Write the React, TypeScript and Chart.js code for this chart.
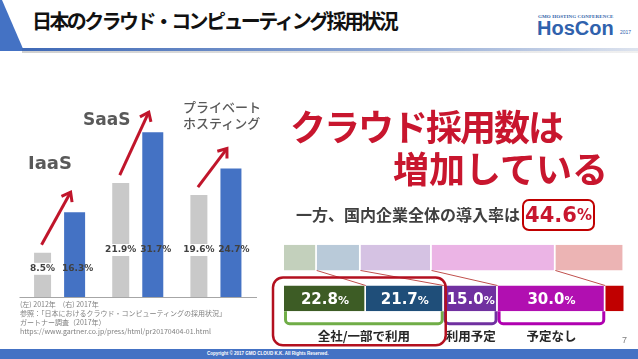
import React, { useEffect, useRef } from 'react';
import { Chart, registerables } from 'chart.js';

Chart.register(...registerables);

// ---------- data ----------
const categories = ['IaaS', 'SaaS', 'プライベートホスティング'];
const seriesNames = ['2012年', '2017年'];
const values2012 = [8.5, 21.9, 19.6];
const values2017 = [16.3, 31.7, 24.7];

const rowNames = ['全体', '内訳'];
const topRowValues = [9.1, 12.2, 19.8, 34.5, 19.1];
const bottomRowValues = [22.8, 21.7, 15.0, 30.0, 5.5];
const groupLabels = ['全社/一部で利用', '利用予定', '予定なし'];
const groupFirst = [0, 2, 3];
const groupLast = [1, 2, 3];
const adoptionRate = '44.6';

// ---------- styles ----------
const JP = '"Noto Sans CJK JP", "Noto Sans", sans-serif';
const NUM = '"DejaVu Sans", Verdana, sans-serif';
const GRAY_BAR = '#c9c9c9';
const BLUE_BAR = '#4472c4';
const ARROW_RED = '#c0152b';
const HEAD_RED = '#c8162e';
const topColors = ['#c3d0bc', '#b9cad9', '#d5c2e3', '#ebb4e5', '#ecb4b4'];
const bottomColors = ['#3d5c25', '#1f4e79', '#7030a0', '#b10fb1', '#c00000'];
const groupColors = ['#70ad47', '#7030a0', '#b000b0'];

function drawArrow(ctx: CanvasRenderingContext2D, x1: number, y1: number, x2: number, y2: number) {
  ctx.save();
  ctx.strokeStyle = ARROW_RED;
  ctx.lineWidth = 3;
  ctx.lineJoin = 'miter';
  ctx.beginPath();
  ctx.moveTo(x1, y1);
  ctx.lineTo(x2, y2);
  ctx.stroke();
  const ang = Math.atan2(y2 - y1, x2 - x1);
  const L = 10;
  const a = 0.65;
  ctx.beginPath();
  ctx.moveTo(x2 - L * Math.cos(ang - a), y2 - L * Math.sin(ang - a));
  ctx.lineTo(x2, y2);
  ctx.lineTo(x2 - L * Math.cos(ang + a), y2 - L * Math.sin(ang + a));
  ctx.stroke();
  ctx.restore();
}

const leftPlugin = {
  id: 'leftDeco',
  afterDatasetsDraw(chart: any) {
    const ctx: CanvasRenderingContext2D = chart.ctx;
    const yS = chart.scales.y;
    const base = yS.getPixelForValue(0);
    const area = chart.chartArea;
    ctx.save();
    ctx.strokeStyle = '#a6a6a6';
    ctx.lineWidth = 1;
    ctx.beginPath();
    ctx.moveTo(area.left, Math.round(base) + 0.5);
    ctx.lineTo(area.right + 3, Math.round(base) + 0.5);
    ctx.stroke();

    const m0 = chart.getDatasetMeta(0);
    const m1 = chart.getDatasetMeta(1);
    ctx.font = 'bold 9px ' + NUM;
    ctx.textAlign = 'center';
    ctx.textBaseline = 'middle';
    categories.forEach((_, i) => {
      const g = m0.data[i];
      const b = m1.data[i];
      const ly = Math.max(base - 47, g.y + 16);
      const t0 = values2012[i].toFixed(1) + '%';
      const t1 = values2017[i].toFixed(1) + '%';
      const w0 = ctx.measureText(t0).width;
      ctx.fillStyle = '#ffffff';
      ctx.fillRect(g.x - w0 / 2 - 1, ly - 6, w0 + 2, 12);
      ctx.fillStyle = '#404040';
      ctx.fillText(t0, g.x, ly);
      ctx.fillText(t1, b.x + 3, ly);
      drawArrow(ctx, g.x - 1, g.y - 8, b.x - 4, b.y - 20);
    });
    ctx.restore();
  },
};

function drawPct(ctx: CanvasRenderingContext2D, v: number, cx: number, cy: number) {
  const num = v.toFixed(1);
  ctx.font = 'bold 15px ' + NUM;
  const wn = ctx.measureText(num).width;
  ctx.font = 'bold 11px ' + NUM;
  const wp = ctx.measureText('%').width;
  const x0 = cx - (wn + wp) / 2;
  const by = cy + 5.5;
  ctx.fillStyle = '#ffffff';
  ctx.textAlign = 'left';
  ctx.textBaseline = 'alphabetic';
  ctx.font = 'bold 15px ' + NUM;
  ctx.fillText(num, x0, by);
  ctx.font = 'bold 11px ' + NUM;
  ctx.fillText('%', x0 + wn, by);
}

const rightPlugin = {
  id: 'rightDeco',
  afterDatasetsDraw(chart: any) {
    const ctx: CanvasRenderingContext2D = chart.ctx;
    const n = bottomRowValues.length;
    const top: any[] = [];
    const bot: any[] = [];
    for (let k = 0; k < n; k++) {
      const meta = chart.getDatasetMeta(k);
      top.push(meta.data[0].getProps(['x', 'y', 'base', 'height'], true));
      bot.push(meta.data[1].getProps(['x', 'y', 'base', 'height'], true));
    }
    ctx.save();
    // connectors between the two rows
    ctx.strokeStyle = '#c0504d';
    ctx.lineWidth = 1;
    for (let k = 0; k < n - 1; k++) {
      ctx.beginPath();
      ctx.moveTo(top[k].x, top[k].y + top[k].height / 2);
      ctx.lineTo(bot[k].x, bot[k].y - bot[k].height / 2);
      ctx.stroke();
    }
    const barTop = bot[0].y - bot[0].height / 2;
    const barBottom = bot[0].y + bot[0].height / 2;
    groupLabels.forEach((label, g) => {
      const l = bot[groupFirst[g]].base + 1.5;
      const r = bot[groupLast[g]].x - 1.5;
      const yb = barBottom + 12.5;
      const rad = 4;
      ctx.strokeStyle = groupColors[g];
      ctx.lineWidth = 3;
      ctx.beginPath();
      ctx.moveTo(l, barBottom);
      ctx.lineTo(l, yb - rad);
      ctx.arcTo(l, yb, l + rad, yb, rad);
      ctx.lineTo(r - rad, yb);
      ctx.arcTo(r, yb, r, yb - rad, rad);
      ctx.lineTo(r, barBottom);
      ctx.stroke();
      ctx.fillStyle = '#262626';
      ctx.font = 'bold 12.5px ' + JP;
      ctx.textAlign = 'center';
      ctx.textBaseline = 'middle';
      ctx.fillText(label, (bot[groupFirst[g]].base + bot[groupLast[g]].x) / 2, barBottom + 25);
      for (let k = groupFirst[g]; k <= groupLast[g]; k++) {
        drawPct(ctx, bottomRowValues[k], (bot[k].base + bot[k].x) / 2, bot[k].y);
      }
    });
    // highlight box around the first group
    const hl = bot[groupFirst[0]].base - 11;
    const hr = bot[groupLast[0]].x + 2;
    ctx.strokeStyle = '#b3101f';
    ctx.lineWidth = 2.5;
    ctx.beginPath();
    (ctx as any).roundRect(hl, barTop - 8, hr - hl, barBottom + 34 - (barTop - 8), 10);
    ctx.stroke();
    ctx.restore();
  },
};

const abs = (s: React.CSSProperties): React.CSSProperties => ({ position: 'absolute', margin: 0, whiteSpace: 'nowrap', ...s });

export default function App() {
  const leftRef = useRef<HTMLCanvasElement>(null);
  const rightRef = useRef<HTMLCanvasElement>(null);

  useEffect(() => {
    document.body.style.margin = '0';
    const left = new Chart(leftRef.current as HTMLCanvasElement, {
      type: 'bar',
      data: {
        labels: categories,
        datasets: [
          { label: seriesNames[0], data: values2012, backgroundColor: GRAY_BAR, maxBarThickness: 17, categoryPercentage: 0.82, barPercentage: 0.66 },
          { label: seriesNames[1], data: values2017, backgroundColor: BLUE_BAR, maxBarThickness: 21, categoryPercentage: 0.82, barPercentage: 0.66 },
        ],
      },
      options: {
        responsive: false,
        animation: false,
        layout: { padding: { left: 19.5, right: 16, top: 29, bottom: 8 } },
        plugins: { legend: { display: false }, tooltip: { enabled: false } },
        scales: { x: { display: false }, y: { display: false, min: 0, max: 40 } },
      },
      plugins: [leftPlugin],
    } as any);

    const right = new Chart(rightRef.current as HTMLCanvasElement, {
      type: 'bar',
      data: {
        labels: rowNames,
        datasets: bottomRowValues.map((_, k) => ({
          label: 'seg' + k,
          data: [topRowValues[k], bottomRowValues[k]],
          backgroundColor: [topColors[k], bottomColors[k]],
          borderColor: '#ffffff',
          borderWidth: { top: 0, bottom: 0, left: 0, right: 1.5 },
          borderSkipped: false,
          barPercentage: 1,
          categoryPercentage: 0.63,
        })),
      },
      options: {
        indexAxis: 'y',
        responsive: false,
        animation: false,
        layout: { padding: { left: 14, right: 13, top: 57.25, bottom: 31.25 } },
        plugins: { legend: { display: false }, tooltip: { enabled: false } },
        scales: {
          x: { display: false, stacked: true, min: 0, max: bottomRowValues.reduce((a, b) => a + b, 0) },
          y: { display: false, stacked: true },
        },
      },
      plugins: [rightPlugin],
    } as any);

    return () => {
      left.destroy();
      right.destroy();
    };
  }, []);

  return (
    <div style={{ position: 'absolute', left: 0, top: 0, width: 638, height: 359, background: '#ffffff', overflow: 'hidden', fontFamily: JP }}>
      {/* header */}
      <div style={abs({ left: 0, top: 0, width: 25, height: 51, background: '#4472c4', clipPath: 'polygon(0 0, 2px 0, 24px 51px, 0 51px)' })} />
      <div style={abs({ left: 22, top: 48, width: 616, height: 3, background: 'linear-gradient(to right, #3f69b6, #8ea7d4 60%, #dde3ee)' })} />
      <div style={abs({ left: 22, top: 51, width: 616, height: 2, background: 'linear-gradient(to right, #d0d0d0, #f0f0f0)' })} />
      <div style={abs({ left: 32, top: 9, fontSize: 20, lineHeight: '24px', fontWeight: 700, color: '#111', letterSpacing: '-2.6px' })}>
        日本のクラウド・コンピューティング採用状況
      </div>
      <div style={abs({ left: 538, top: 14, fontSize: 5, lineHeight: '6px', fontWeight: 700, color: '#2f5fa8', fontFamily: '"Liberation Serif", serif', letterSpacing: '0.1px' })}>GMO HOSTING CONFERENCE</div>
      <div style={abs({ left: 537, top: 18, fontSize: 20, lineHeight: '20px', fontWeight: 700, color: '#3062ad', fontFamily: '"Liberation Sans", sans-serif' })}>HosCon</div>
      <div style={abs({ left: 620, top: 29, fontSize: 5, lineHeight: '6px', color: '#3062ad', fontFamily: '"Liberation Sans", sans-serif' })}>2017</div>

      {/* left chart */}
      <canvas ref={leftRef} width={270} height={245} style={{ position: 'absolute', left: 0, top: 60, width: 270, height: 245 }} />
      <div style={abs({ left: 28, top: 153, fontSize: 18, lineHeight: '20px', fontWeight: 700, color: '#595959', fontFamily: NUM })}>IaaS</div>
      <div style={abs({ left: 83, top: 109, fontSize: 17, lineHeight: '20px', fontWeight: 700, color: '#595959', fontFamily: NUM })}>SaaS</div>
      <div style={abs({ left: 183, top: 99, fontSize: 13, lineHeight: '16px', fontWeight: 500, color: '#595959' })}>
        プライベート<br />ホスティング
      </div>
      <div style={abs({ left: 20, top: 300, fontSize: 7, lineHeight: '9px', color: '#808080' })}>
        (左) 2012年　(右) 2017年<br />
        参照：「日本におけるクラウド・コンピューティングの採用状況」<br />
        ガートナー調査（2017年）<br />
        https://www.gartner.co.jp/press/html/pr20170404-01.html
      </div>

      {/* right side */}
      <div style={abs({ left: 290, top: 105, fontSize: 36, lineHeight: '40px', fontWeight: 700, color: HEAD_RED, letterSpacing: '-2px' })}>クラウド採用数は</div>
      <div style={abs({ left: 393, top: 147, fontSize: 36, lineHeight: '40px', fontWeight: 700, color: HEAD_RED })}>増加している</div>
      <div style={abs({ left: 296, top: 204, fontSize: 16, lineHeight: '20px', fontWeight: 700, color: '#404040' })}>一方、国内企業全体の導入率は</div>
      <div style={abs({ left: 522, top: 199, width: 73, height: 32, boxSizing: 'border-box', border: '2.5px solid #c00000', borderRadius: 7, display: 'flex', alignItems: 'center', justifyContent: 'center', color: HEAD_RED, fontFamily: NUM, fontWeight: 700 })}>
        <span style={{ fontSize: 21, lineHeight: '24px' }}>{adoptionRate}</span>
        <span style={{ fontSize: 15, lineHeight: '24px' }}>%</span>
      </div>
      <canvas ref={rightRef} width={368} height={170} style={{ position: 'absolute', left: 270, top: 180, width: 368, height: 170 }} />
      <div style={abs({ left: 622, top: 335, fontSize: 9, lineHeight: '10px', color: '#808080', fontFamily: '"Liberation Sans", sans-serif' })}>7</div>

      {/* footer */}
      <div style={abs({ left: 0, top: 349, width: 638, height: 10, background: '#4472c4' })} />
      <div style={abs({ left: 207, top: 351, width: 108, textAlign: 'center', fontSize: 4.5, lineHeight: '6px', color: '#ffffff', fontWeight: 700, fontFamily: '"Liberation Sans", sans-serif' })}>
        Copyright © 2017 GMO CLOUD K.K. All Rights Reserved.
      </div>
    </div>
  );
}
